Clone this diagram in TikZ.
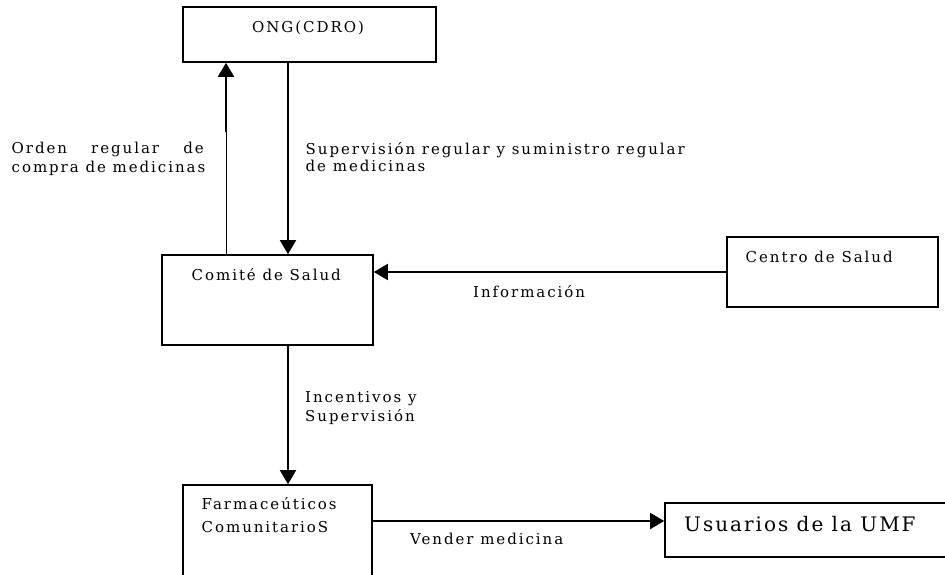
\documentclass[tikz,border=0pt]{standalone}
\usepackage{fontspec}
\setmainfont{DejaVu Serif}[LetterSpace=13]
\newfontfamily\bigfont{DejaVu Serif}[LetterSpace=10]
\usetikzlibrary{arrows.meta}
\begin{document}
\begin{tikzpicture}[x=1pt,y=-1pt,
  box/.style={draw,line width=1.6pt,rectangle,inner sep=0pt},
  arr/.style={line width=1.6pt,-{Triangle[width=16pt,length=14pt]}},
  txt/.style={inner sep=0pt,anchor=base west,font=\fontsize{15}{18.5}\selectfont},
  big/.style={inner sep=0pt,anchor=base west,font=\bigfont\fontsize{20}{22}\selectfont}]
\useasboundingbox (0,0) rectangle (945,574);
% boxes
\node[box,minimum width=253pt,minimum height=55pt] (ong) at (309.5,34.5) {};
\node[box,minimum width=211pt,minimum height=90pt] (comite) at (267.5,300) {};
\node[box,minimum width=211pt,minimum height=70pt] (centro) at (832.5,272) {};
\node[box,minimum width=189pt,minimum height=115pt] (farm) at (277.5,542.5) {};
\node[box,minimum width=295pt,minimum height=54pt] (usu) at (812.5,530) {};
% box texts
\node[inner sep=0pt,anchor=base,font=\fontsize{15}{18.5}\selectfont] (tong) at (308,32) {ONG(CDRO)};
\node[txt] (tcomite) at (191.5,280.5) {Comité de Salud};
\node[txt] (tcentro) at (745.5,262.5) {Centro de Salud};
\node[txt] (tfarm1) at (201.5,509.5) {Farmaceúticos};
\node[txt] (tfarm2) at (201.5,532.5) {ComunitarioS};
\node[big] (tusu) at (684,531) {Usuarios de la UMF};
% connector routing points
\coordinate (dn) at (288,0);
\coordinate (up) at (226,0);
\coordinate (upmid) at (226,132);
\coordinate (sell) at (0,521);
% connectors
\draw[arr] (ong.south -| dn) -- (comite.north -| dn);
\draw[line width=0.6pt] (comite.north -| up) -- (upmid);
\draw[arr] (upmid) -- (ong.south -| up);
\draw[arr] (centro.west) -- (comite.east |- centro.west);
\draw[arr] (comite.south -| dn) -- (farm.north -| dn);
\draw[arr] (farm.east |- sell) -- (usu.west |- sell);
% connector labels
\node[txt] (lorden) at (11.5,153.5) {\makebox[192pt][s]{Orden\hfill regular\hfill de}};
\node[txt] (lorden2) at (11.5,172.5) {compra de medicinas};
\node[txt] (lsup) at (305.5,154) {Supervisión regular y suministro regular};
\node[txt] (lsup2) at (305.5,171) {de medicinas};
\node[txt] (linfo) at (473,297) {Información};
\node[txt] (linc) at (305,402.5) {Incentivos y};
\node[txt] (linc2) at (305,421) {Supervisión};
\node[txt] (lvend) at (410,544) {Vender medicina};
\end{tikzpicture}
\end{document}
